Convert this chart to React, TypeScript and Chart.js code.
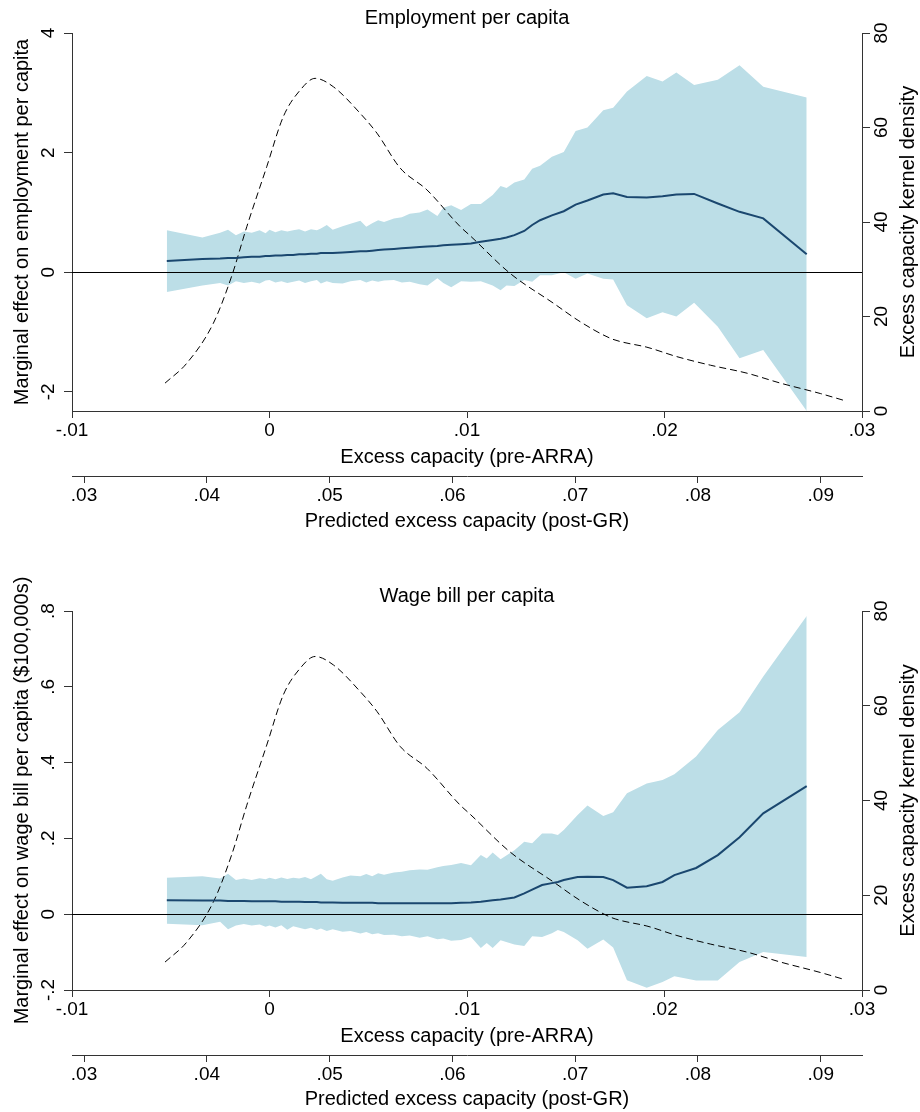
import React, { useEffect, useRef } from 'react';
import { Chart, registerables } from 'chart.js';

Chart.register(...registerables);

const FONT = '"Liberation Sans", Arial, Helvetica, sans-serif';
const NAVY = '#1a476f';
const BAND = 'rgb(188,222,231)';
const AXIS = '#333333';

// ---- shared axes ----
const PRE_MIN = -0.01;
const PRE_MAX = 0.03;
const PRE_TICKS = [-0.01, 0, 0.01, 0.02, 0.03];
const PRE_LABELS = ['-.01', '0', '.01', '.02', '.03'];
const POST_MIN = 0.02902;
const POST_MAX = 0.09336;
const POST_TICKS = [0.03, 0.04, 0.05, 0.06, 0.07, 0.08, 0.09];
const POST_LABELS = ['.03', '.04', '.05', '.06', '.07', '.08', '.09'];
const DENS_TICKS = [0, 20, 40, 60, 80];
const DENS_LABELS = ['0', '20', '40', '60', '80'];

// ---- kernel density of excess capacity (right axis) ----
const DENS_X = [-0.00529, -0.00419, -0.00284, -0.00191, -0.00115, -0.00014, 0.0007, 0.00155, 0.00231, 0.00324,
  0.00459, 0.00544, 0.00662, 0.00797, 0.00966, 0.01016, 0.01219, 0.01438, 0.01573, 0.01725,
  0.01776, 0.01911, 0.02063, 0.02232, 0.02418, 0.02587, 0.02789, 0.02904];
const DENS_Y = [5.9, 10.1, 18.6, 28.6, 39.0, 51.7, 62.3, 67.9, 70.4, 68.6,
  63.0, 58.8, 51.4, 46.8, 39.0, 37.1, 29.1, 22.8, 18.9, 15.4,
  14.7, 13.5, 11.5, 9.7, 8.0, 5.9, 3.7, 2.3];

// ---- Employment per capita ----
const EMP_X = [-0.0052, -0.0034, -0.0025, -0.0021, -0.0017, -0.0013, -0.0009, -0.0005, -0.0002, 0.0,
  0.0003, 0.0006, 0.0009, 0.0012, 0.0015, 0.0018, 0.0021, 0.0024, 0.0026, 0.0029,
  0.0032, 0.0037, 0.0041, 0.0046, 0.0049, 0.0052, 0.0055, 0.0058, 0.0063, 0.0067,
  0.0071, 0.0076, 0.008, 0.0085, 0.0088, 0.0092, 0.0097, 0.0102, 0.0107, 0.0113,
  0.0117, 0.012, 0.0124, 0.0129, 0.0133, 0.0137, 0.0143, 0.0149, 0.0155, 0.0161,
  0.0169, 0.0174, 0.0181, 0.0191, 0.0199, 0.0206, 0.0215, 0.0227, 0.0238, 0.025, 0.0272];
const EMP_LO = [-0.33, -0.22, -0.18, -0.22, -0.15, -0.18, -0.16, -0.19, -0.14, -0.13,
  -0.17, -0.15, -0.18, -0.16, -0.14, -0.18, -0.15, -0.13, -0.19, -0.15,
  -0.18, -0.19, -0.15, -0.13, -0.17, -0.14, -0.16, -0.14, -0.13, -0.17,
  -0.16, -0.2, -0.22, -0.1, -0.18, -0.25, -0.15, -0.16, -0.15, -0.22,
  -0.3, -0.22, -0.23, -0.13, -0.16, -0.05, -0.05, 0.0, -0.11, -0.02,
  -0.11, -0.12, -0.55, -0.77, -0.67, -0.74, -0.51, -0.91, -1.44, -1.3, -2.32];
const EMP_MID = [0.19, 0.22, 0.23, 0.24, 0.24, 0.25, 0.26, 0.26, 0.27, 0.27,
  0.28, 0.28, 0.29, 0.29, 0.3, 0.3, 0.31, 0.31, 0.32, 0.32,
  0.32, 0.33, 0.34, 0.35, 0.35, 0.36, 0.37, 0.38, 0.39, 0.4,
  0.41, 0.42, 0.43, 0.44, 0.45, 0.46, 0.47, 0.48, 0.51, 0.54,
  0.56, 0.58, 0.62, 0.69, 0.79, 0.87, 0.95, 1.02, 1.13, 1.2,
  1.3, 1.32, 1.26, 1.25, 1.27, 1.3, 1.31, 1.15, 1.01, 0.9, 0.3];
const EMP_HI = [0.7, 0.58, 0.66, 0.71, 0.62, 0.68, 0.66, 0.7, 0.65, 0.71,
  0.67, 0.7, 0.68, 0.7, 0.72, 0.68, 0.72, 0.7, 0.73, 0.79,
  0.71, 0.77, 0.81, 0.86, 0.76, 0.82, 0.87, 0.84, 0.9, 0.92,
  0.98, 1.0, 1.05, 0.94, 1.08, 1.12, 1.04, 1.14, 1.14, 1.29,
  1.44, 1.41, 1.5, 1.55, 1.73, 1.78, 1.93, 2.01, 2.36, 2.42,
  2.71, 2.75, 3.02, 3.28, 3.19, 3.34, 3.13, 3.22, 3.46, 3.1, 2.92];
const EMP_Y_MIN = -2.32;
const EMP_Y_MAX = 4;
const EMP_Y_TICKS = [-2, 0, 2, 4];
const EMP_Y_LABELS = ['-2', '0', '2', '4'];

// ---- Wage bill per capita ----
const WAGE_X = [-0.0052, -0.0034, -0.0025, -0.0021, -0.0017, -0.0013, -0.0009, -0.0005, -0.0002, 0.0,
  0.0003, 0.0006, 0.0009, 0.0012, 0.0015, 0.0018, 0.0021, 0.0024, 0.0026, 0.0029,
  0.0032, 0.0037, 0.0041, 0.0046, 0.0049, 0.0052, 0.0055, 0.0058, 0.0063, 0.0067,
  0.0071, 0.0076, 0.008, 0.0085, 0.0088, 0.0092, 0.0097, 0.0102, 0.0107, 0.011,
  0.0113, 0.0117, 0.0124, 0.0129, 0.0133, 0.0138, 0.0143, 0.0146, 0.0149, 0.0156,
  0.0161, 0.0169, 0.0174, 0.0181, 0.0191, 0.0199, 0.0205, 0.0216, 0.0227, 0.0238, 0.025, 0.0272];
const WAGE_LO = [-0.025, -0.029, -0.02, -0.04, -0.03, -0.026, -0.03, -0.027, -0.033, -0.03,
  -0.035, -0.029, -0.041, -0.032, -0.036, -0.04, -0.036, -0.042, -0.038, -0.044,
  -0.04, -0.046, -0.044, -0.051, -0.047, -0.053, -0.05, -0.055, -0.054, -0.058,
  -0.056, -0.062, -0.058, -0.066, -0.064, -0.07, -0.068, -0.06, -0.089, -0.076,
  -0.089, -0.069, -0.08, -0.084, -0.058, -0.06, -0.05, -0.042, -0.047, -0.069,
  -0.091, -0.067, -0.088, -0.174, -0.194, -0.179, -0.164, -0.175, -0.175, -0.126, -0.1, -0.113];
const WAGE_MID = [0.037, 0.036, 0.036, 0.035, 0.035, 0.035, 0.034, 0.034, 0.034, 0.034,
  0.034, 0.033, 0.033, 0.033, 0.033, 0.032, 0.032, 0.032, 0.031, 0.031,
  0.031, 0.03, 0.03, 0.03, 0.03, 0.03, 0.029, 0.029, 0.029, 0.029,
  0.029, 0.029, 0.029, 0.029, 0.029, 0.029, 0.03, 0.031, 0.033, 0.035,
  0.037, 0.039, 0.044, 0.055, 0.065, 0.077, 0.082, 0.085, 0.09, 0.098,
  0.099, 0.098, 0.09, 0.07, 0.074, 0.085, 0.103, 0.122, 0.156, 0.203, 0.266, 0.338];
const WAGE_HI = [0.096, 0.1, 0.094, 0.107, 0.09, 0.094, 0.09, 0.095, 0.092, 0.096,
  0.092, 0.097, 0.093, 0.096, 0.094, 0.098, 0.092, 0.101, 0.107, 0.092,
  0.088, 0.097, 0.102, 0.1, 0.106, 0.1, 0.108, 0.104, 0.11, 0.112,
  0.116, 0.118, 0.117, 0.124, 0.127, 0.13, 0.135, 0.129, 0.156, 0.147,
  0.163, 0.145, 0.169, 0.191, 0.187, 0.213, 0.213, 0.209, 0.222, 0.262,
  0.287, 0.259, 0.269, 0.319, 0.345, 0.354, 0.369, 0.416, 0.486, 0.533, 0.627, 0.787];
const WAGE_Y_MIN = -0.2;
const WAGE_Y_MAX = 0.8;
const WAGE_Y_TICKS = [-0.2, 0, 0.2, 0.4, 0.6, 0.8];
const WAGE_Y_LABELS = ['-.2', '0', '.2', '.4', '.6', '.8'];

type PanelProps = {
  top: number;
  height: number;
  padTop: number;
  x2Height: number;
  x2TitlePad: number;
  title: string;
  yTitle: string;
  xs: number[];
  lo: number[];
  mid: number[];
  hi: number[];
  yMin: number;
  yMax: number;
  yTicks: number[];
  yLabels: string[];
};

function Panel(p: PanelProps) {
  const ref = useRef<HTMLCanvasElement | null>(null);

  useEffect(() => {
    if (!ref.current) return;
    const pts = (ys: number[]) => p.xs.map((x, i) => ({ x, y: ys[i] }));

    const textPlugin = {
      id: 'textPlugin',
      afterDatasetsDraw(chart: any) {
        const { ctx, chartArea: ca, scales } = chart;
        ctx.save();
        // zero reference line
        const y0 = Math.round(scales.y.getPixelForValue(0)) + 0.5;
        ctx.strokeStyle = '#000';
        ctx.lineWidth = 1;
        ctx.beginPath();
        ctx.moveTo(ca.left, y0);
        ctx.lineTo(ca.right, y0);
        ctx.stroke();
        ctx.restore();
      },
      afterDraw(chart: any) {
        const { ctx, chartArea: ca, scales } = chart;
        ctx.save();
        ctx.fillStyle = '#000';
        ctx.font = `20px ${FONT}`;
        ctx.textAlign = 'center';
        ctx.textBaseline = 'alphabetic';
        ctx.fillText(p.title, (ca.left + ca.right) / 2, ca.top - 9.5);
        const rot = (x: number, y: number, text: string, size: number) => {
          ctx.save();
          ctx.translate(x, y);
          ctx.rotate(-Math.PI / 2);
          ctx.font = `${size}px ${FONT}`;
          ctx.textAlign = 'center';
          ctx.textBaseline = 'alphabetic';
          ctx.fillText(text, 0, 0);
          ctx.restore();
        };
        p.yTicks.forEach((v, i) => rot(ca.left - 18, scales.y.getPixelForValue(v), p.yLabels[i], 19));
        DENS_TICKS.forEach((v, i) => rot(ca.right + 25, scales.y2.getPixelForValue(v), DENS_LABELS[i], 19));
        rot(ca.left - 44, (ca.top + ca.bottom) / 2, p.yTitle, 20);
        rot(ca.right + 52, (ca.top + ca.bottom) / 2, 'Excess capacity kernel density', 20);
        ctx.restore();
      },
    };

    const axisCommon = {
      grid: { drawOnChartArea: false, drawTicks: true, tickLength: 7, color: AXIS, lineWidth: 1 },
      border: { display: true, color: AXIS, width: 1 },
    };

    const chart = new Chart(ref.current, {
      type: 'line',
      data: {
        datasets: [
          {
            label: 'Marginal effect',
            data: pts(p.mid),
            xAxisID: 'x',
            yAxisID: 'y',
            borderColor: NAVY,
            borderWidth: 2,
            pointRadius: 0,
            fill: false,
            tension: 0,
          },
          {
            label: 'Kernel density',
            data: DENS_X.map((x, i) => ({ x, y: DENS_Y[i] })),
            xAxisID: 'x',
            yAxisID: 'y2',
            borderColor: '#000',
            borderWidth: 1,
            borderDash: [7, 4],
            pointRadius: 0,
            fill: false,
            cubicInterpolationMode: 'monotone',
          },
          {
            label: 'Upper CI',
            data: pts(p.hi),
            xAxisID: 'x',
            yAxisID: 'y',
            borderColor: 'rgba(0,0,0,0)',
            borderWidth: 0,
            pointRadius: 0,
            backgroundColor: BAND,
            fill: '+1',
            tension: 0,
          },
          {
            label: 'Lower CI',
            data: pts(p.lo),
            xAxisID: 'x',
            yAxisID: 'y',
            borderColor: 'rgba(0,0,0,0)',
            borderWidth: 0,
            pointRadius: 0,
            fill: false,
            tension: 0,
          },
        ],
      },
      options: {
        responsive: false,
        animation: false,
        devicePixelRatio: 1,
        layout: { padding: { top: p.padTop, left: 0, right: 0, bottom: 0 } },
        plugins: {
          legend: { display: false },
          tooltip: { enabled: false },
          title: { display: false },
        },
        scales: {
          x: {
            type: 'linear',
            position: 'bottom',
            weight: 0,
            min: PRE_MIN,
            max: PRE_MAX,
            afterBuildTicks: (s: any) => {
              s.ticks = PRE_TICKS.map((v) => ({ value: v }));
            },
            afterFit: (s: any) => {
              s.height = 65;
            },
            ticks: {
              callback: (_v: any, i: number) => PRE_LABELS[i],
              font: { size: 19, family: FONT },
              color: '#000',
              padding: 1,
              maxRotation: 0,
              autoSkip: false,
            },
            title: {
              display: true,
              text: 'Excess capacity (pre-ARRA)',
              font: { size: 20, family: FONT },
              color: '#000',
              padding: { top: 0, bottom: 7 },
            },
            ...axisCommon,
          },
          x2: {
            type: 'linear',
            position: 'bottom',
            weight: 1,
            min: POST_MIN,
            max: POST_MAX,
            afterBuildTicks: (s: any) => {
              s.ticks = POST_TICKS.map((v) => ({ value: v }));
            },
            afterFit: (s: any) => {
              s.height = p.x2Height;
            },
            ticks: {
              callback: (_v: any, i: number) => POST_LABELS[i],
              font: { size: 19, family: FONT },
              color: '#000',
              padding: 1,
              maxRotation: 0,
              autoSkip: false,
            },
            title: {
              display: true,
              text: 'Predicted excess capacity (post-GR)',
              font: { size: 20, family: FONT },
              color: '#000',
              padding: { top: 0, bottom: p.x2TitlePad },
            },
            ...axisCommon,
          },
          y: {
            type: 'linear',
            position: 'left',
            min: p.yMin,
            max: p.yMax,
            afterBuildTicks: (s: any) => {
              s.ticks = p.yTicks.map((v) => ({ value: v }));
            },
            afterFit: (s: any) => {
              s.width = 72;
            },
            ticks: { display: false },
            title: { display: false },
            grid: { drawOnChartArea: false, drawTicks: true, tickLength: 8, color: AXIS, lineWidth: 1 },
            border: { display: true, color: AXIS, width: 1 },
          },
          y2: {
            type: 'linear',
            position: 'right',
            min: 0,
            max: 80,
            afterBuildTicks: (s: any) => {
              s.ticks = DENS_TICKS.map((v) => ({ value: v }));
            },
            afterFit: (s: any) => {
              s.width = 58;
            },
            ticks: { display: false },
            title: { display: false },
            grid: { drawOnChartArea: false, drawTicks: true, tickLength: 8, color: AXIS, lineWidth: 1 },
            border: { display: true, color: AXIS, width: 1 },
          },
        },
      } as any,
      plugins: [textPlugin],
    });

    return () => chart.destroy();
  }, []);

  return (
    <canvas
      ref={ref}
      width={920}
      height={p.height}
      style={{ position: 'absolute', left: 0, top: p.top, width: 920, height: p.height, display: 'block' }}
    />
  );
}

export default function App() {
  Chart.defaults.font.family = FONT;
  Chart.defaults.color = '#000';
  return (
    <div style={{ position: 'absolute', left: 0, top: 0, width: 920, height: 1112, background: '#fff', overflow: 'hidden' }}>
      <Panel
        top={0}
        height={556}
        padTop={33}
        x2Height={80}
        x2TitlePad={23}
        title="Employment per capita"
        yTitle="Marginal effect on employment per capita"
        xs={EMP_X}
        lo={EMP_LO}
        mid={EMP_MID}
        hi={EMP_HI}
        yMin={EMP_Y_MIN}
        yMax={EMP_Y_MAX}
        yTicks={EMP_Y_TICKS}
        yLabels={EMP_Y_LABELS}
      />
      <Panel
        top={556}
        height={556}
        padTop={55}
        x2Height={57}
        x2TitlePad={1}
        title="Wage bill per capita"
        yTitle="Marginal effect on wage bill per capita ($100,000s)"
        xs={WAGE_X}
        lo={WAGE_LO}
        mid={WAGE_MID}
        hi={WAGE_HI}
        yMin={WAGE_Y_MIN}
        yMax={WAGE_Y_MAX}
        yTicks={WAGE_Y_TICKS}
        yLabels={WAGE_Y_LABELS}
      />
    </div>
  );
}
